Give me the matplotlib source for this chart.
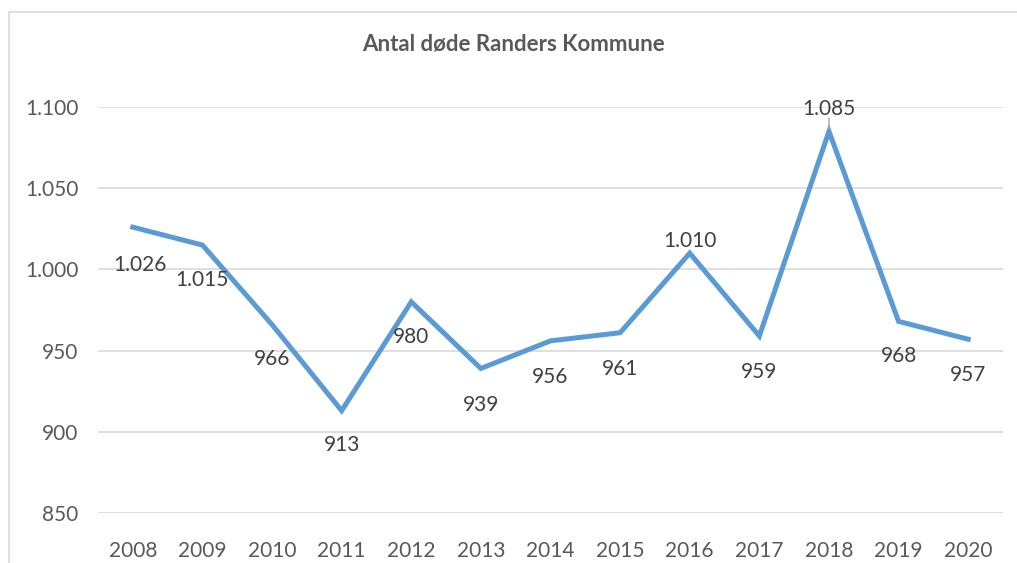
import matplotlib.pyplot as plt
from matplotlib.patches import Rectangle
from matplotlib.ticker import FuncFormatter

# data
years = ['2008', '2009', '2010', '2011', '2012', '2013', '2014',
         '2015', '2016', '2017', '2018', '2019', '2020']
deaths = [1026, 1015, 966, 913, 980, 939, 956, 961, 1010, 959, 1085, 968, 957]

# label offsets in points (dx, dy) relative to each point
label_dx = [5, 0, 0, 0, 0, 0, 0, 0, 0, 0, 0, 0, 0]
label_dy = [-27, -25, -25, -25, -25, -26, -26, -26, 9, -26, 16, -25, -26]

plt.rcParams['font.family'] = ['Lato', 'DejaVu Sans']

fig = plt.figure(figsize=(10.17, 5.63), dpi=100)
ax = fig.add_axes([98 / 1017, 1 - 513 / 563, (1003 - 98) / 1017, (513 - 107) / 563])

# chart border like the excel chart area
fig.patches.append(Rectangle((8.5 / 1017, -0.1), 1.2, 1 - 12.5 / 563 + 0.1,
                             transform=fig.transFigure, fill=False,
                             edgecolor='#d9d9d9', linewidth=1.2))

x = list(range(len(years)))
ax.plot(x, deaths, color='#5b9bd5', linewidth=3.6, solid_joinstyle='miter', zorder=3)

for i, v in enumerate(deaths):
    txt = f'{v:,}'.replace(',', '.')
    ax.annotate(txt, (i, v), xytext=(label_dx[i], label_dy[i]), textcoords='offset points',
                ha='center', va='center', fontsize=15, color='#404040', zorder=4)

# leader line for 2018
ax.annotate('', (10, 1085), xytext=(10, 1085 + 10), textcoords='data',
            arrowprops=dict(arrowstyle='-', color='#a6a6a6', lw=1))

ax.set_xlim(-0.5, len(years) - 0.5)
ax.set_ylim(850, 1100)
ax.set_yticks([850, 900, 950, 1000, 1050, 1100])
ax.yaxis.set_major_formatter(FuncFormatter(lambda v, p: f'{int(v):,}'.replace(',', '.')))
ax.set_xticks(x)
ax.set_xticklabels(years)

ax.grid(axis='y', color='#d9d9d9', linewidth=1.2)
ax.set_axisbelow(True)
for s in ax.spines.values():
    s.set_visible(False)
ax.tick_params(axis='both', length=0, labelsize=15, labelcolor='#595959')
ax.tick_params(axis='y', pad=14)
ax.tick_params(axis='x', pad=20)

fig.text(513 / 1017, 1 - 44 / 563, 'Antal døde Randers Kommune', ha='center', va='center',
         fontsize=16, fontweight='bold', color='#595959')

fig.savefig('out.png', dpi=100)
